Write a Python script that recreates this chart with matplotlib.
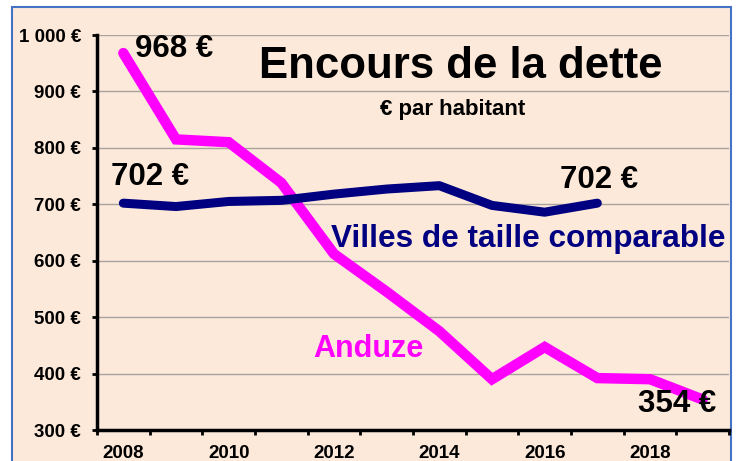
import numpy as np
import matplotlib.pyplot as plt
from matplotlib.patches import Rectangle
from matplotlib.ticker import FixedLocator, FuncFormatter

# Data (euros per inhabitant)
years = [2008, 2009, 2010, 2011, 2012, 2013, 2014, 2015, 2016, 2017, 2018, 2019]
anduze = [968, 815, 810, 738, 612, 545, 475, 390, 447, 392, 390, 354]
villes_years = [2008, 2009, 2010, 2011, 2012, 2013, 2014, 2015, 2016, 2017]
villes = [702, 696, 705, 707, 718, 727, 733, 698, 686, 702]
year_labels = [2008, 2010, 2012, 2014, 2016, 2018]

BG = '#FCE9DA'
PINK = '#FF00FF'
NAVY = '#000080'

plt.rcParams['font.family'] = ['Liberation Sans', 'DejaVu Sans']
plt.rcParams['font.weight'] = 'bold'

fig = plt.figure(figsize=(7.39, 4.61), dpi=100)
fig.patch.set_facecolor('white')

# peach panel with blue border
W, H = 739, 461
fig.patches.append(Rectangle((12 / W, -0.05), (731 - 12) / W, (461 - 7) / H + 0.05,
                             transform=fig.transFigure, facecolor=BG,
                             edgecolor='#4472C4', linewidth=1.5, zorder=-10))

ax = fig.add_axes([97 / W, (461 - 430) / H, (729 - 97) / W, (430 - 35) / H])
ax.set_facecolor('none')

ax.plot(years, anduze, color=PINK, linewidth=7.5, solid_capstyle='round',
        solid_joinstyle='miter', zorder=3)
ax.plot(villes_years, villes, color=NAVY, linewidth=6.5, solid_capstyle='round',
        solid_joinstyle='round', zorder=4)

ax.set_xlim(2007.5, 2019.5)
ax.set_ylim(300, 1000)

ax.set_yticks(np.arange(300, 1001, 100))
ax.yaxis.set_major_formatter(FuncFormatter(
    lambda v, p: ('1 000 €' if v >= 1000 else f'{int(v)} €')))
ax.set_xticks(year_labels)
ax.xaxis.set_minor_locator(FixedLocator(np.arange(2007.5, 2020, 1)))
ax.tick_params(axis='x', which='major', length=0, labelsize=13.5, pad=11)
ax.tick_params(axis='x', which='minor', length=3.6, width=2, direction='out')
ax.tick_params(axis='y', length=3.6, width=2, labelsize=13.5, pad=8)
for lab in ax.get_xticklabels() + ax.get_yticklabels():
    lab.set_fontweight('bold')

ax.grid(axis='y', color='#A9A29E', linewidth=1.0)
ax.set_axisbelow(True)
for s in ['top', 'right']:
    ax.spines[s].set_visible(False)
for s in ['left', 'bottom']:
    ax.spines[s].set_linewidth(2.5)

# texts
ax.text(2010.57, 924, 'Encours de la dette', fontsize=31.5, fontweight='bold',
        ha='left', va='baseline')
ax.text(2014.26, 858, '€ par habitant', fontsize=16, fontweight='bold',
        ha='center', va='baseline')
ax.text(2008.22, 961, '968 €', fontsize=22.5, fontweight='bold', ha='left', va='baseline')
ax.text(2007.77, 734, '702 €', fontsize=22.5, fontweight='bold', ha='left', va='baseline')
ax.text(2016.3, 729, '702 €', fontsize=22.5, fontweight='bold', ha='left', va='baseline')
ax.text(2017.77, 332, '354 €', fontsize=22.5, fontweight='bold', ha='left', va='baseline')
ax.text(2011.94, 624, 'Villes de taille comparable', fontsize=22.7, fontweight='bold',
        color=NAVY, ha='left', va='baseline')
ax.text(2011.6, 429, 'Anduze', fontsize=22, fontweight='bold', color=PINK,
        ha='left', va='baseline')

fig.savefig('out.png', dpi=100)
